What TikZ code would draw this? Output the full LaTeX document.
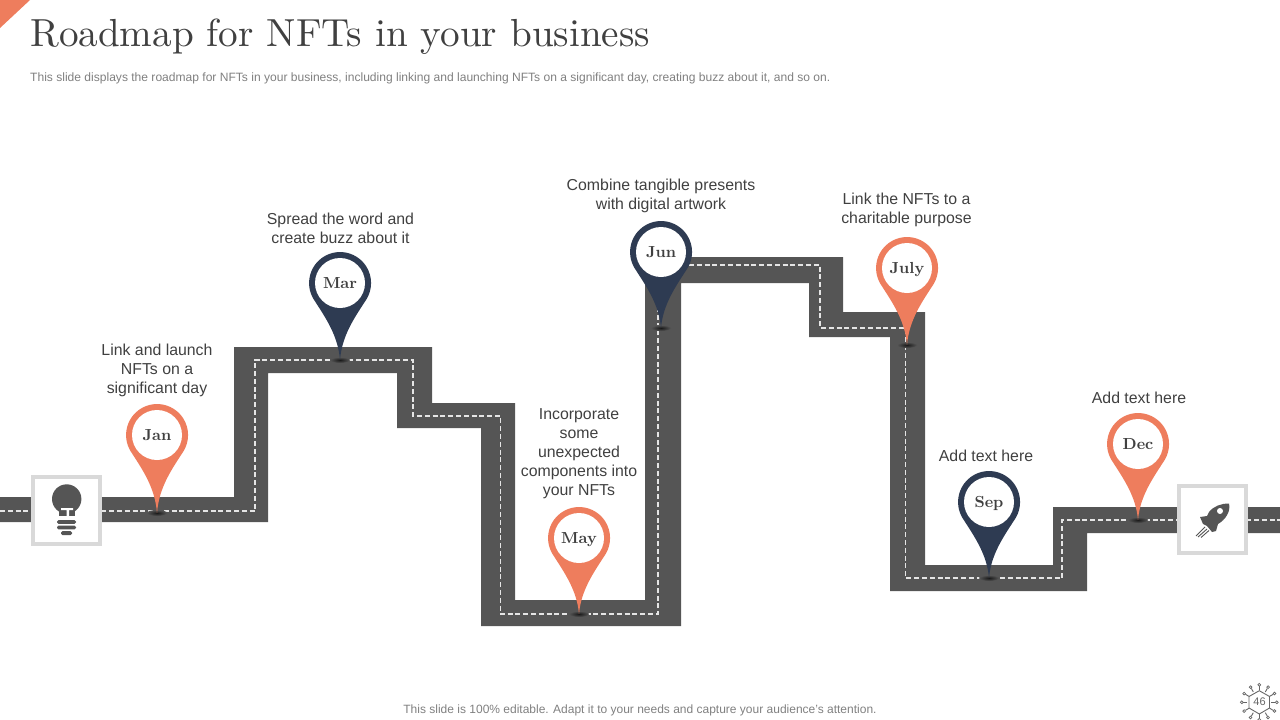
\documentclass[tikz,border=0pt]{standalone}
\usepackage{fontspec}
\setmainfont{Liberation Sans}
\newfontfamily\titlefont{lmroman10-regular}[Extension=.otf,BoldFont=lmroman10-bold]
\definecolor{road}{HTML}{555555}
\definecolor{coral}{HTML}{EE7D5D}
\definecolor{navy}{HTML}{2E3B52}
\definecolor{txt}{HTML}{404040}
\definecolor{frame}{HTML}{D9D9D9}
\tikzset{
  x=1pt,y=-1pt,
  roadfill/.style={fill=road,draw=none},
  centerline/.style={draw=white!90!black,line width=1.05pt,dash pattern=on 5pt off 2.8pt},
  caption/.style={align=center,text=txt,font=\fontsize{15.85}{19}\selectfont,inner sep=0pt},
  month/.style={font=\titlefont\bfseries\fontsize{16}{16}\selectfont,text=txt,inner sep=0pt,text height=10.5pt,text depth=0pt},
  iconbox/.style={draw=frame,line width=3.2pt,fill=white,minimum size=67pt,inner sep=0pt},
  badge/.style={draw=black!60,line width=.9pt},
}
% \pinmark{name}{cx}{cy}{tip y}{colour}{month}
\newcommand{\pinmark}[6]{%
  \shade[shading=radial,inner color=black!90,outer color=road] (#2,#4) ellipse [x radius=10pt,y radius=3pt];
  \fill[#5] ({#2-26.5},{#3+16}) arc[start angle=211,end angle=-31,radius=31pt]
     .. controls ({#2+15},{#3+34}) and ({#2+2},{#3+52}) .. (#2,#4)
     .. controls ({#2-2},{#3+52}) and ({#2-15},{#3+34}) .. cycle;
  \node[circle,fill=white,minimum size=50pt,inner sep=0pt,month] (#1) at (#2,#3) {#6};
}
\begin{document}
\begin{tikzpicture}
\useasboundingbox (0,0) rectangle (1280,720);
\fill[coral] (0,0) -- (30,0) -- (0,28) -- cycle;
\node[anchor=west,inner sep=0pt,text=txt,font=\titlefont\fontsize{39.15}{39}\selectfont] (title) at (30,37) {Roadmap for NFTs in your business};
\node[anchor=west,inner sep=0pt,text=black!50,font=\fontsize{12.06}{14}\selectfont] (sub) at (30,78) {This slide displays the roadmap for NFTs in your business, including linking and launching NFTs on a significant day, creating buzz about it, and so on.};
% road
\fill[roadfill] (0,497) -- (234,497) -- (234,347) -- (432,347) -- (432,403) -- (515,403) -- (515,600) -- (645,600) -- (645,257) -- (843,257) -- (843,312) -- (925,312) -- (925,565) -- (1053,565) -- (1053,507) -- (1280,507) -- (1280,533) -- (1087,533) -- (1087,591) -- (890,591) -- (890,337) -- (809,337) -- (809,283) -- (681,283) -- (681,626) -- (481,626) -- (481,428) -- (397,428) -- (397,373) -- (268,373) -- (268,522) -- (0,522) -- cycle;
\draw[centerline] (0,511) -- (255,511) -- (255,360) -- (413,360) -- (413,416) -- (500.5,416) -- (500.5,614) -- (658,614) -- (658,265) -- (820,265) -- (820,328) -- (905.5,328) -- (905.5,578) -- (1062,578) -- (1062,520) -- (1280,520);
% icon boxes
\node[iconbox] (bulbbox) at (66.5,510.5) {};
\node[iconbox] (rocketbox) at (1212.5,519.5) {};
% bulb
\fill[road] (66.7,499) circle[radius=14.7pt];
\fill[road] (58.5,506) rectangle (75,516);
\fill[white] (61,508) -- (73,508) -- (73,510) -- (69,510) -- (69,516) -- (66.5,516) -- (66.5,510) -- (61,510) -- cycle;
\fill[road,rounded corners=1.5pt] (57,520) rectangle (76,523.8);
\fill[road,rounded corners=1.5pt] (57,525.6) rectangle (76,529.4);
\fill[road,rounded corners=1.5pt] (61,531) rectangle (72,535);
% rocket
\fill[road] (1229,503.5) .. controls (1221,503.5) and (1214,506) .. (1209,512) -- (1207,516) -- (1200,517) -- (1203,524) -- (1207,526) -- (1212,532) -- (1216,531) -- (1218,524) .. controls (1225,520) and (1231,512) .. (1229,503.5) -- cycle;
\fill[white] (1220,511) circle[radius=3pt];
\draw[road,line width=.9pt] (1205,527) -- (1196,536);
\draw[road,line width=.9pt] (1207,529) -- (1198,537);
\draw[road,line width=.9pt] (1209,530.5) -- (1201,537.5);
% pins
\pinmark{jan}{157}{435}{513}{coral}{Jan}
\pinmark{mar}{340}{283}{360}{navy}{Mar}
\pinmark{may}{579}{538}{614}{coral}{May}
\pinmark{jun}{661}{252}{328}{navy}{Jun}
\pinmark{july}{907}{268}{345}{coral}{July}
\pinmark{sep}{989}{502}{578}{navy}{Sep}
\pinmark{dec}{1138}{444}{520}{coral}{Dec}
% captions
\node[caption] (c1) at (157,370) {Link and launch\\NFTs on a\\significant day};
\node[caption] (c2) at (340.5,228) {Spread the word and\\create buzz about it};
\node[caption] (c3) at (579,454) {Incorporate\\some\\unexpected\\components into\\your NFTs};
\node[caption] (c4) at (661,195.5) {Combine tangible presents\\with digital artwork};
\node[caption] (c5) at (906.5,209.5) {Link the NFTs to a\\charitable purpose};
\node[caption] (c6) at (986,455.5) {Add text here};
\node[caption] (c7) at (1139,397.5) {Add text here};
\node[inner sep=0pt,text=black!50,font=\fontsize{12}{14}\selectfont] (foot) at (640,710) {This slide is 100\% editable. Adapt it to your needs and capture your audience's attention.};
% page badge
\draw[badge] (1259.3,690.7) -- (1269.5,696.5) -- (1269.5,708) -- (1259.3,714) -- (1249,708) -- (1249,696.5) -- cycle;
\foreach \ang in {0,30,...,330}{
  \draw[badge] ({1259.3+16*cos(\ang)},{702.3+16*sin(\ang)}) -- ({1259.3+12*cos(\ang)},{702.3+12*sin(\ang)});
  \draw[badge,line width=.7pt] ({1259.3+17.5*cos(\ang)},{702.3+17.5*sin(\ang)}) circle[radius=1.4pt];
}
\node[inner sep=0pt,text=black!60,font=\fontsize{11}{11}\selectfont] (pg) at (1259.5,702) {46};
\end{tikzpicture}
\end{document}
